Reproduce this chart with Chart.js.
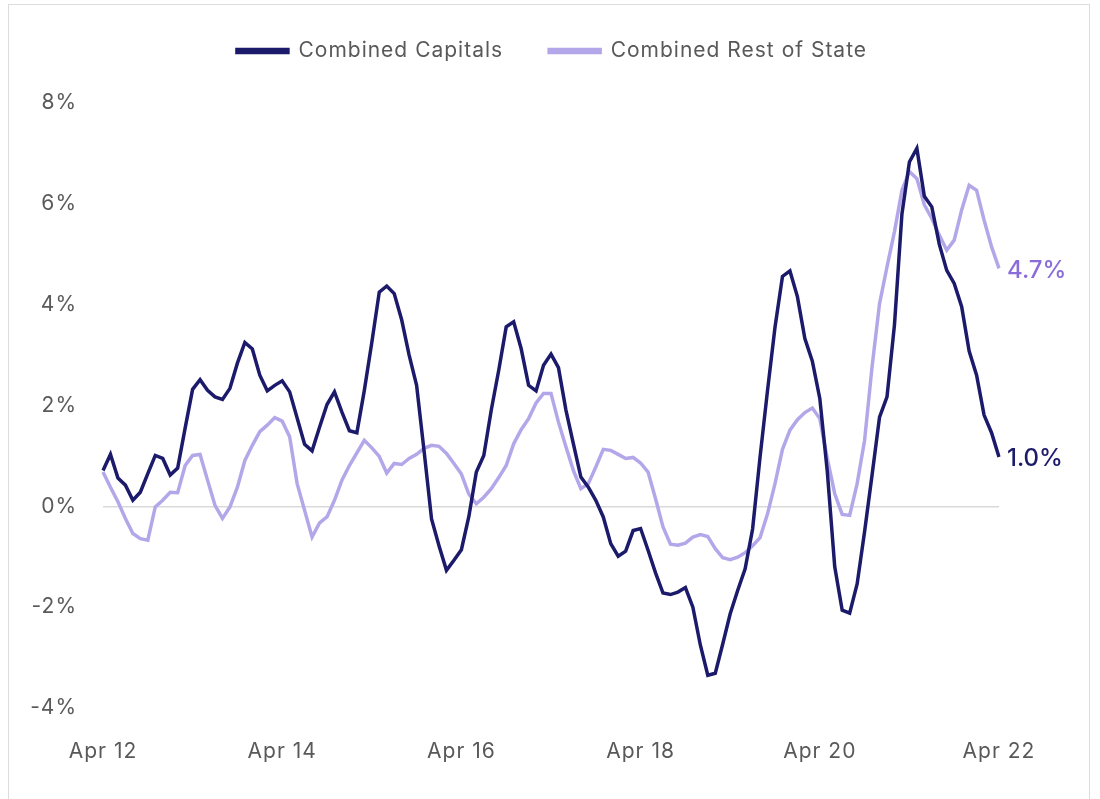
<!DOCTYPE html>
<html>
<head>
<meta charset="utf-8">
<script src="https://cdn.jsdelivr.net/npm/chart.js@4.4.1/dist/chart.umd.min.js"></script>
<style>
    body { margin: 0; background: #fff; }
    #frame { position: absolute; left: 8px; top: 4px; width: 1082px; height: 820px; border: 1px solid #dcdcdc; box-sizing: border-box; }
    #myChart { position: absolute; left: 0; top: 0; }
</style>
</head>
<body>
<div id="frame"></div>
<canvas id="myChart" width="1100" height="799"></canvas>
<script>
let FONT = "Inter, 'Open Sans', sans-serif";
let TEXT_COLOR = "#595959";
let DARK = "#1b1a6b";
let LIGHT = "#b4a7e9";
let LIGHT_LABEL = "#8a6dd9";

// monthly, Apr 2012 .. Apr 2022
let monthNames = ["Apr", "May", "Jun", "Jul", "Aug", "Sep", "Oct", "Nov", "Dec", "Jan", "Feb", "Mar"];
let startYear = 12;
let monthCount = 121;

let combinedCapitals = [
    0.71, 1.03, 0.56, 0.42, 0.12, 0.28, 0.65, 1.01, 0.95, 0.62, 0.76, 1.55,
    2.32, 2.51, 2.30, 2.17, 2.12, 2.34, 2.84, 3.25, 3.12, 2.60, 2.29, 2.40,
    2.49, 2.27, 1.75, 1.23, 1.10, 1.57, 2.02, 2.27, 1.87, 1.50, 1.46, 2.30,
    3.25, 4.25, 4.37, 4.22, 3.70, 3.00, 2.40, 1.10, -0.25, -0.78, -1.27, -1.07,
    -0.86, -0.20, 0.68, 1.01, 1.91, 2.70, 3.56, 3.66, 3.13, 2.40, 2.29, 2.80,
    3.02, 2.75, 1.91, 1.24, 0.58, 0.38, 0.12, -0.21, -0.74, -0.99, -0.89, -0.48,
    -0.44, -0.87, -1.32, -1.72, -1.75, -1.70, -1.61, -2.00, -2.75, -3.35, -3.31, -2.73,
    -2.13, -1.67, -1.24, -0.45, 0.98, 2.30, 3.55, 4.56, 4.67, 4.16, 3.33, 2.88,
    2.14, 0.70, -1.20, -2.06, -2.12, -1.54, -0.50, 0.62, 1.77, 2.17, 3.60, 5.80,
    6.83, 7.10, 6.15, 5.94, 5.20, 4.68, 4.42, 3.96, 3.08, 2.60, 1.81, 1.46,
    0.98
];

let combinedRestOfState = [
    0.68, 0.38, 0.09, -0.24, -0.54, -0.64, -0.67, -0.01, 0.12, 0.28, 0.27, 0.81,
    1.01, 1.03, 0.52, 0.02, -0.24, -0.01, 0.38, 0.91, 1.21, 1.48, 1.61, 1.76,
    1.69, 1.38, 0.45, -0.08, -0.61, -0.33, -0.21, 0.12, 0.52, 0.81, 1.06, 1.31,
    1.16, 0.99, 0.66, 0.85, 0.83, 0.95, 1.03, 1.15, 1.21, 1.19, 1.05, 0.85,
    0.64, 0.24, 0.05, 0.18, 0.35, 0.57, 0.81, 1.24, 1.52, 1.74, 2.05, 2.24,
    2.24, 1.67, 1.18, 0.71, 0.35, 0.45, 0.78, 1.13, 1.11, 1.03, 0.95, 0.97,
    0.86, 0.68, 0.15, -0.41, -0.75, -0.77, -0.73, -0.61, -0.56, -0.60, -0.84, -1.02,
    -1.06, -1.01, -0.92, -0.78, -0.62, -0.15, 0.45, 1.13, 1.51, 1.72, 1.86, 1.95,
    1.74, 0.95, 0.25, -0.16, -0.18, 0.45, 1.31, 2.77, 4.02, 4.75, 5.45, 6.27,
    6.64, 6.50, 5.98, 5.71, 5.38, 5.08, 5.28, 5.88, 6.37, 6.27, 5.68, 5.15,
    4.72
];

let yTicks = [-4, -2, 0, 2, 4, 6, 8];
let LABEL_EVERY = 24;

let labels = [];
for (let i = 0; i < monthCount; i++) {
    let yr = startYear + Math.floor((i + 3) / 12);
    labels.push(monthNames[i % 12] + " " + yr);
}

let LEGEND_SIZE = 21;
let LEGEND_PAD = 46;

// wider text like the original font, legend spacing and position
const textAndLegend = {
    id: "textAndLegend",
    beforeInit(chart) {
        const fit = chart.legend.fit;
        chart.legend.fit = function () {
            fit.bind(chart.legend)();
            this.height = 103;
        };
    },
    beforeUpdate(chart) {
        chart.ctx.letterSpacing = "1px";
    },
    afterLayout(chart) {
        let lg = chart.legend;
        lg.left = 2;
        lg.right = 1102;
        lg.width = 1100;
        lg.top = 51 - LEGEND_PAD - LEGEND_SIZE / 2;
    }
};

// value at the end of each line
const endLabels = {
    id: "endLabels",
    afterDatasetsDraw(chart) {
        const ctx = chart.ctx;
        ctx.save();
        ctx.letterSpacing = "0px";
        ctx.font = "500 24px " + FONT;
        ctx.textBaseline = "middle";
        ctx.textAlign = "left";
        chart.data.datasets.forEach((ds, i) => {
            let meta = chart.getDatasetMeta(i);
            let last = meta.data[meta.data.length - 1];
            let v = ds.data[ds.data.length - 1];
            ctx.fillStyle = ds.endColor;
            ctx.fillText(v.toFixed(1) + "%", last.x + 8, last.y + 2);
        });
        ctx.restore();
    }
};

const ctx = document.getElementById("myChart").getContext("2d");
const myChart = new Chart(ctx, {
    type: "line",
    data: {
        labels: labels,
        datasets: [{
            label: "Combined Capitals",
            data: combinedCapitals,
            borderColor: DARK,
            backgroundColor: DARK,
            endColor: DARK,
            borderWidth: 3.5
        }, {
            label: "Combined Rest of State",
            data: combinedRestOfState,
            borderColor: LIGHT,
            backgroundColor: LIGHT,
            endColor: LIGHT_LABEL,
            borderWidth: 3.5
        }]
    },
    options: {
        responsive: false,
        animation: false,
        layout: { padding: { top: 0, left: 20, right: 101, bottom: 0 } },
        elements: { point: { radius: 0 }, line: { tension: 0 } },
        plugins: {
            legend: {
                display: true,
                labels: {
                    boxWidth: 51,
                    boxHeight: 3,
                    padding: LEGEND_PAD,
                    color: TEXT_COLOR,
                    font: { family: FONT, size: LEGEND_SIZE }
                }
            },
            tooltip: { enabled: false }
        },
        scales: {
            x: {
                grid: { display: false, drawTicks: false },
                border: { display: false },
                afterFit: (scale) => { scale.height = 91; },
                ticks: {
                    autoSkip: false,
                    maxRotation: 0,
                    padding: 31,
                    color: TEXT_COLOR,
                    font: { family: FONT, size: 21 },
                    callback: (v, i) => (i % LABEL_EVERY === 0 ? labels[i] : "")
                }
            },
            y: {
                min: yTicks[0],
                max: yTicks[yTicks.length - 1],
                afterFit: (scale) => { scale.width = 83; },
                grid: {
                    drawTicks: false,
                    lineWidth: 1.5,
                    color: (c) => (c.tick && c.tick.value === 0 ? "#d9d9d9" : "rgba(0,0,0,0)")
                },
                border: { display: false },
                ticks: {
                    stepSize: 2,
                    padding: 26,
                    color: TEXT_COLOR,
                    font: { family: FONT, size: 21 },
                    callback: (v) => v + "%"
                }
            }
        }
    },
    plugins: [textAndLegend, endLabels]
});
</script>
</body>
</html>
